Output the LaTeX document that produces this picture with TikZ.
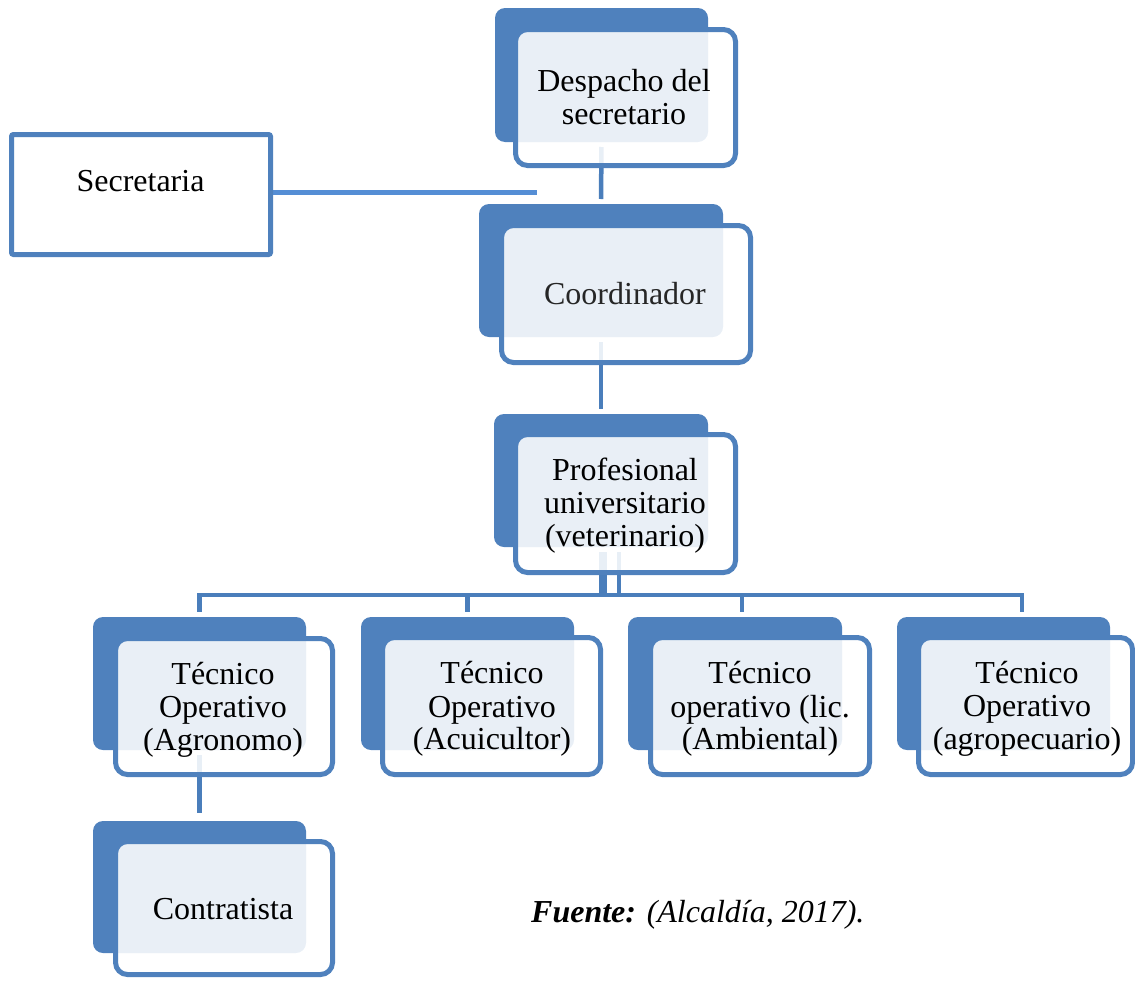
\documentclass[tikz,border=0pt]{standalone}
\usepackage{fontspec}
\setmainfont{Liberation Serif}
\pgfdeclarelayer{background}
\pgfsetlayers{background,main}
\definecolor{darkblue}{RGB}{79,129,189}
\definecolor{linkblue}{RGB}{74,126,187}
\definecolor{secline}{RGB}{85,142,213}
\begin{document}
\begin{tikzpicture}[x=1pt,y=-1pt,
  backbox/.style={fill=darkblue, rounded corners=10pt, inner sep=0pt, outer sep=0pt},
  frontbox/.style={draw=darkblue, line width=5pt, fill=white, fill opacity=0.88, rounded corners=12pt, inner sep=0pt, outer sep=0pt},
  secbox/.style={draw=darkblue, line width=5pt, fill=white, rounded corners=2pt, inner sep=0pt, outer sep=0pt},
  lbl/.style={anchor=base, inner sep=0pt, font=\fontsize{32}{33}\selectfont, text=black},
  conn/.style={draw=linkblue, line width=4.5pt, shorten <=5pt, shorten >=5pt},
]
\useasboundingbox (0,0) rectangle (1135,980);

% Secretaria
\node[secbox, minimum width=259pt, minimum height=120pt] (s) at (141,194.5) {};
\node[lbl] (sT) at (140.5,191) {Secretaria};
\coordinate (sEnd) at (537,192);

% Despacho del secretario
\node[backbox, minimum width=213pt, minimum height=134pt] (dB) at (601.5,75) {};
\node[frontbox, minimum width=220pt, minimum height=136pt] (dF) at (625.5,97.5) {};
\node[lbl] (dT1) at (624,91) {Despacho del};
\node[lbl] (dT2) at (624,124) {secretario};

% Coordinador
\node[backbox, minimum width=244pt, minimum height=133pt] (cB) at (601,270.5) {};
\node[frontbox, minimum width=249pt, minimum height=137pt] (cF) at (626,294) {};
\node[lbl, text=black!85] (cT) at (625,304) {Coordinador};

% Profesional
\node[backbox, minimum width=214pt, minimum height=133pt] (pB) at (601,480.5) {};
\node[frontbox, minimum width=220pt, minimum height=138pt] (pF) at (625.5,503.5) {};
\node[lbl] (pT1) at (625,480) {Profesional};
\node[lbl] (pT2) at (625,513) {universitario};
\node[lbl] (pT3) at (625,546) {(veterinario)};

% Agronomo
\node[backbox, minimum width=213pt, minimum height=133pt] (aB) at (199.5,683.5) {};
\node[frontbox, minimum width=217pt, minimum height=136pt] (aF) at (224,706.5) {};
\node[lbl] (aT1) at (223,684) {Técnico};
\node[lbl] (aT2) at (223,717) {Operativo};
\node[lbl] (aT3) at (223,750) {(Agronomo)};

% Acuicultor
\node[backbox, minimum width=213pt, minimum height=133pt] (acB) at (467.5,683.5) {};
\node[frontbox, minimum width=218pt, minimum height=137pt] (acF) at (491.5,706) {};
\node[lbl] (acT1) at (492,683) {Técnico};
\node[lbl] (acT2) at (492,717) {Operativo};
\node[lbl] (acT3) at (492,749) {(Acuicultor)};

% Ambiental
\node[backbox, minimum width=214pt, minimum height=133pt] (amB) at (735,683.5) {};
\node[frontbox, minimum width=219pt, minimum height=137pt] (amF) at (760,706) {};
\node[lbl] (amT1) at (760,683) {Técnico};
\node[lbl] (amT2) at (760,717) {operativo (lic.};
\node[lbl] (amT3) at (760,749) {(Ambiental)};

% Agropecuario
\node[backbox, minimum width=213pt, minimum height=133pt] (agB) at (1003.5,683.5) {};
\node[frontbox, minimum width=214pt, minimum height=137pt] (agF) at (1025.5,706) {};
\node[lbl] (agT1) at (1027,683) {Técnico};
\node[lbl] (agT2) at (1027,716) {Operativo};
\node[lbl] (agT3) at (1027,749) {(agropecuario)};

% Contratista
\node[backbox, minimum width=213pt, minimum height=132pt] (ctB) at (199.5,887) {};
\node[frontbox, minimum width=217pt, minimum height=133pt] (ctF) at (224,908) {};
\node[lbl] (ctT) at (223,919) {Contratista};

% Source
\node[anchor=base west, inner sep=0pt, font=\fontsize{32}{33}\selectfont] (src) at (531,922)
  {\textbf{\textit{Fuente:}} \textit{(Alcaldía, 2017).}};

% Connectors
\begin{pgfonlayer}{background}
\draw[draw=secline, line width=5pt] ([yshift=2.5pt]s.east) -- (sEnd);
\draw[conn] (dB.south) -- (cB.north);
\draw[conn] (cB.south) -- (pB.north);
\draw[conn] (pB.south) -- ++(0,48) -| (aB.north);
\draw[conn] (pB.south) -- ++(0,48) -| (acB.north);
\draw[conn] ([xshift=4pt]pB.south) -- ++(0,48) -| ([xshift=7pt]amB.north);
\draw[conn] ([xshift=18pt]pB.south) -- ++(0,48) -| ([xshift=18.5pt]agB.north);
\draw[conn, shorten >=8pt] (aB.south) -- (ctB.north);
\end{pgfonlayer}
\end{tikzpicture}
\end{document}
